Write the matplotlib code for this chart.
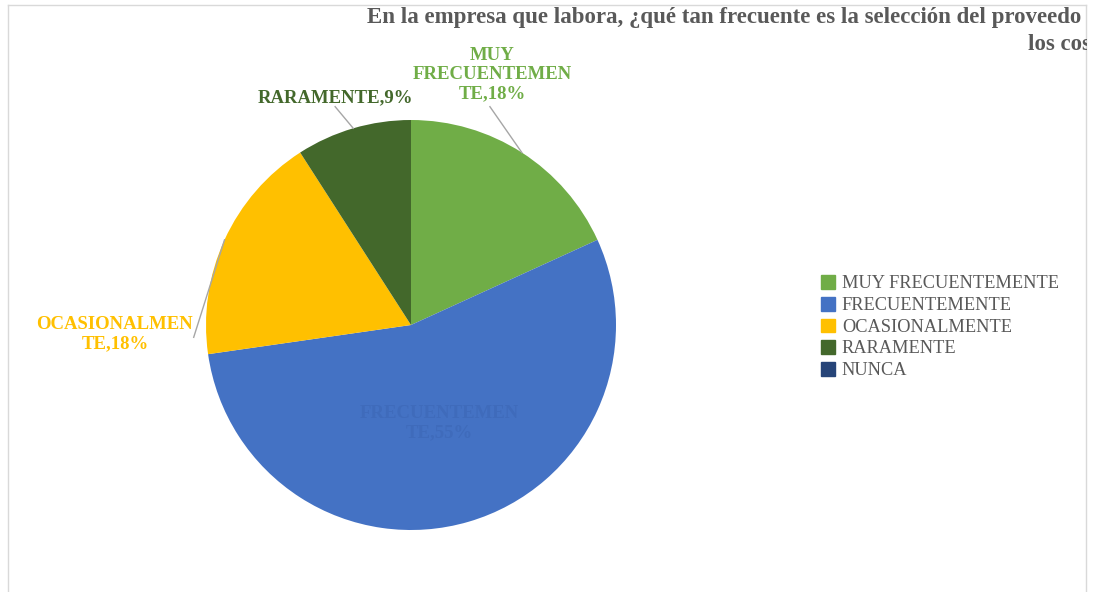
"""Pie chart: frecuencia de selección del proveedor."""

import numpy as np
import matplotlib.pyplot as plt
from matplotlib.lines import Line2D
from matplotlib.transforms import Bbox, TransformedBbox

categories = ['MUY FRECUENTEMENTE', 'FRECUENTEMENTE', 'OCASIONALMENTE',
              'RARAMENTE', 'NUNCA']
counts = [2, 6, 2, 1, 0]
label_text = ['MUY\nFRECUENTEMEN\nTE', 'FRECUENTEMEN\nTE', 'OCASIONALMEN\nTE',
              'RARAMENTE', '']
colors = ['#70AD47', '#4472C4', '#FFC000', '#43682B', '#264478']
label_colors = ['#70AD47', '#3F6BBB', '#FFC000', '#43682B', '#264478']
# title as far as it shows inside the chart area
title_1 = 'En la empresa que labora, ¿qué tan frecuente es la selección del proveedo'
title_2 = 'los cos'

# label placement (in pie radius units) and leader line start
label_pos = [(0.395, 1.22), (0.14, -0.48), (-1.444, -0.045), (-0.37, 1.11), None]
leader_start = [(0.385, 1.065), None, (-1.06, -0.06), (-0.37, 1.065), None]

W, H = 1096, 592
SERIF = ['Liberation Serif', 'DejaVu Serif']


def main():
    fig = plt.figure(figsize=(W / 100, H / 100), dpi=100)
    fig.patch.set_facecolor('white')

    cx, cy, r = 411, 325, 205
    ax = fig.add_axes([(cx - r) / W, (H - cy - r) / H, 2 * r / W, 2 * r / H])
    wedges, _ = ax.pie(counts, colors=colors, startangle=90, counterclock=False,
                       radius=1, wedgeprops=dict(linewidth=0))
    ax.set_xlim(-1, 1)
    ax.set_ylim(-1, 1)
    ax.set_aspect('equal')
    ax.axis('off')

    total = sum(counts)
    for i, w in enumerate(wedges):
        if counts[i] == 0:
            continue
        pct = round(100 * counts[i] / total)
        txt = f'{label_text[i]},{pct}%'
        lx, ly = label_pos[i]
        ax.text(lx, ly, txt, ha='center', va='center', color=label_colors[i],
                fontsize=13.5, fontweight='bold', family=SERIF,
                linespacing=1.15, clip_on=False)
        if leader_start[i] is not None:
            mid = np.deg2rad((w.theta1 + w.theta2) / 2)
            ex, ey = np.cos(mid), np.sin(mid)
            sx, sy = leader_start[i]
            ax.plot([sx, ex], [sy, ey], color='#A6A6A6', lw=1.0, clip_on=False)

    # title, clipped at the right border of the chart area
    clip = TransformedBbox(Bbox([[0, 0], [1087 / W, 1]]), fig.transFigure)
    for txt, x, y in [(title_1, 367, 18), (title_2, 1028, 45)]:
        t = fig.text(x / W, 1 - y / H, txt, ha='left', va='center',
                     color='#595959', fontsize=16.5, fontweight='bold',
                     family=SERIF)
        t.set_clip_on(True)
        t.set_clip_box(clip)

    # legend
    handles = [plt.Rectangle((0, 0), 1, 1, color=c) for c in colors]
    leg = fig.legend(handles, categories, loc='upper left',
                     bbox_to_anchor=(812 / W, 1 - 266 / H), frameon=False,
                     borderpad=0, handlelength=0.78, handleheight=0.78,
                     handletextpad=0.35, labelspacing=0.24,
                     prop=dict(family=SERIF, size=13.2))
    for t in leg.get_texts():
        t.set_color('#595959')

    # chart area border
    bc = '#D9D9D9'
    fig.add_artist(Line2D([8 / W, 8 / W], [0, 1 - 5 / H], color=bc, lw=1))
    fig.add_artist(Line2D([1086 / W, 1086 / W], [0, 1 - 5 / H], color=bc, lw=1))
    fig.add_artist(Line2D([8 / W, 1086 / W], [1 - 5 / H, 1 - 5 / H], color=bc, lw=1))

    fig.savefig('out.png', dpi=100, facecolor='white')


main()
